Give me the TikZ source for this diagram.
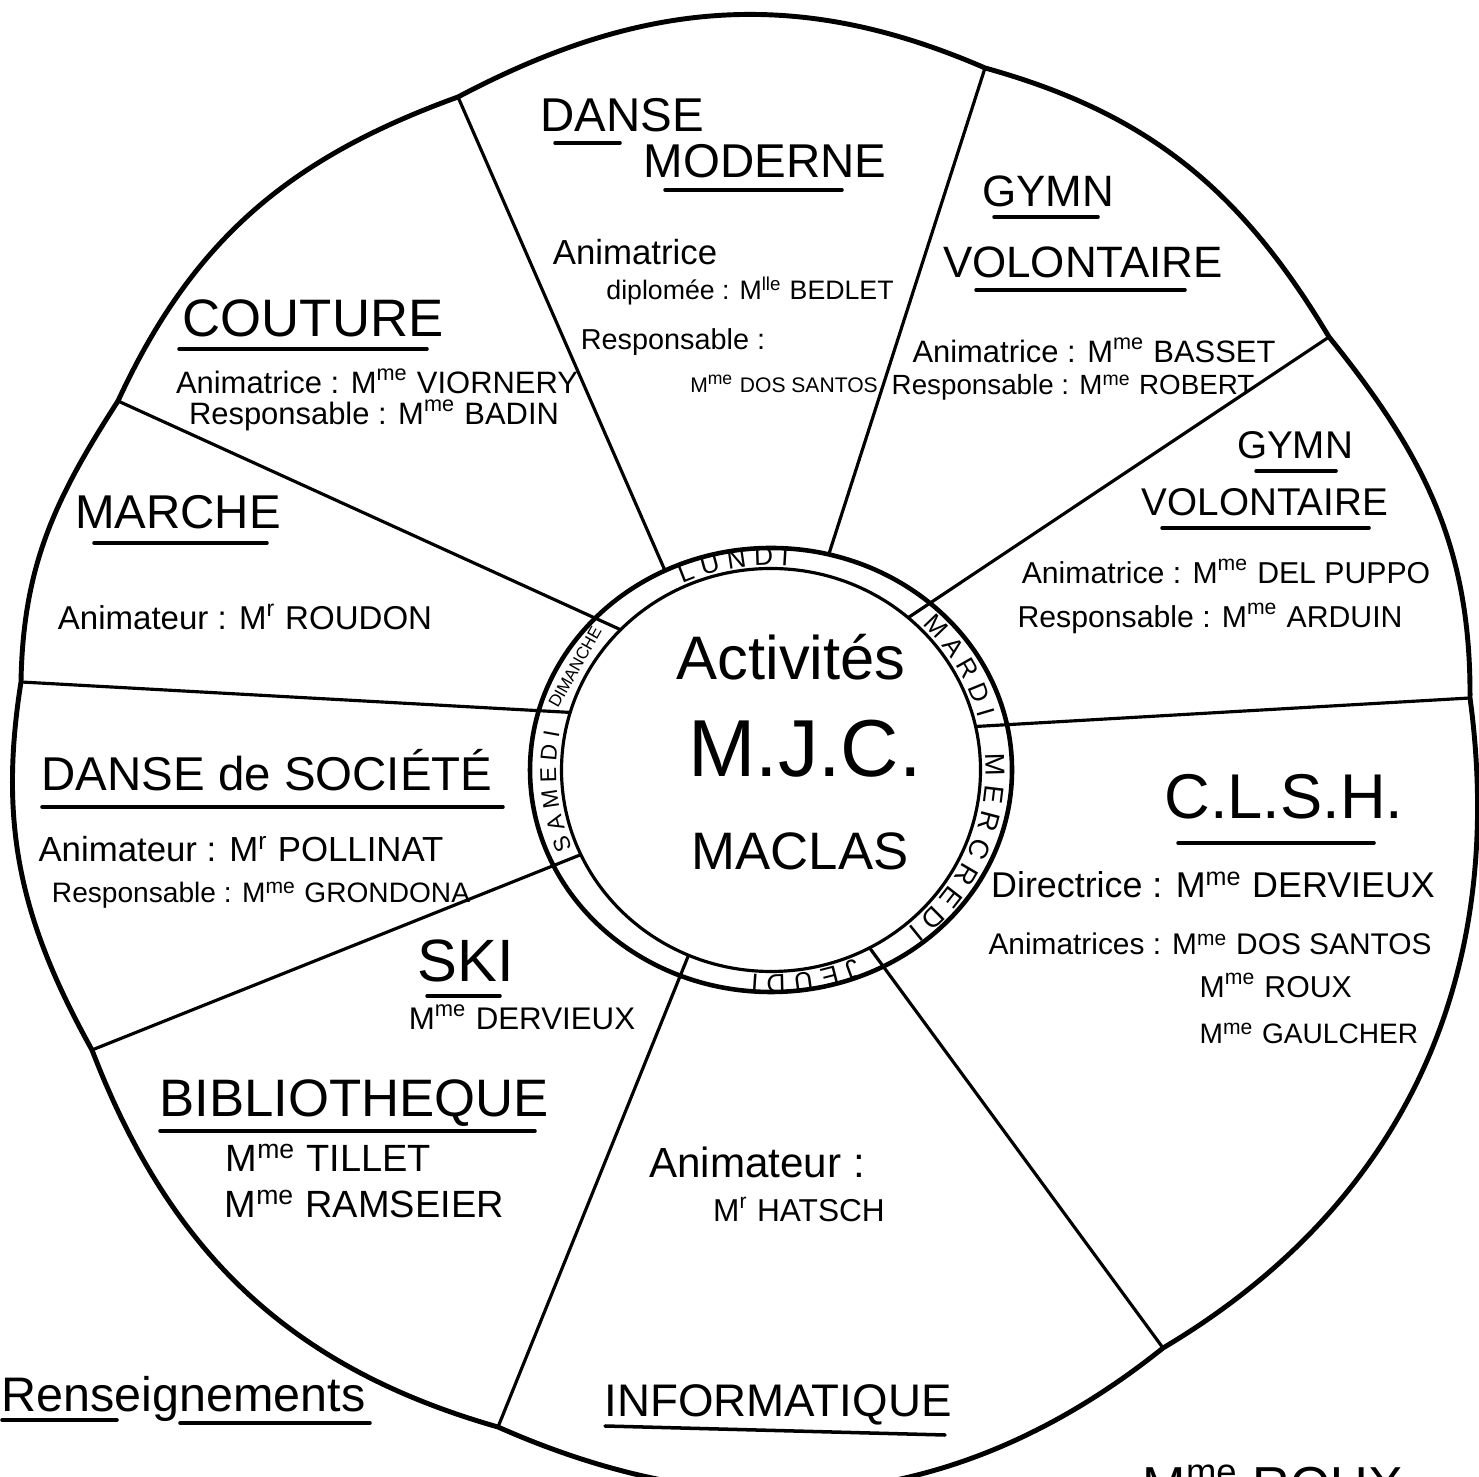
\documentclass[tikz,border=0pt]{standalone}
\usepackage{fontspec}
\setmainfont{Liberation Sans}
\usetikzlibrary{shapes.geometric,decorations.text}

\newcommand{\Mme}{M\textsuperscript{me}}
\newcommand{\Mr}{M\textsuperscript{r}}

\tikzset{
  jante/.style={line width=1.4pt,line join=round,line cap=round},
  rayon/.style={line width=0.9pt},
  anneau/.style={ellipse,draw,inner sep=0pt,outer sep=0pt},
  jour/.style={decorate,decoration={text along path,text align=center}},
  titre/.style={anchor=base,inner sep=0pt,font=\fontsize{13.5}{15}\selectfont},
  info/.style={anchor=base,inner sep=0pt,font=\fontsize{8.8}{10}\selectfont},
  trait/.style={line width=1pt,line cap=round},
}

\begin{document}
\begin{tikzpicture}

    \useasboundingbox (0,0) rectangle (14.79,14.76);

    % pointes de la roue
    \coordinate (p1) at (4.58,13.79);
    \coordinate (p2) at (9.85,14.08);
    \coordinate (p3) at (13.29,11.39);
    \coordinate (p4) at (14.70,7.78);
    \coordinate (p5) at (11.63,1.28);
    \coordinate (p6) at (4.98,0.49);
    \coordinate (p7) at (0.92,4.26);
    \coordinate (p8) at (0.21,7.94);
    \coordinate (p9) at (1.18,10.75);

    \draw[jante] (p2) to[out=-15.5,in=120.9] (p3)
        to[out=-51.1,in=89.7] (p4)
        to[out=-82.3,in=30.7] (p5)
        to[out=-141.3,in=-23.9] (p6)
        to[out=164.1,in=-69] (p7)
        to[out=119,in=-99] (p8)
        to[out=89,in=237.2] (p9)
        to[out=65.2,in=199.9] (p1)
        to[out=27.9,in=156.5] (p2);

    \node[anneau,line width=1.3pt,minimum width=4.82cm,minimum height=4.44cm] (couronne) at (7.71,7.06) {};
    \node[anneau,line width=0.9pt,minimum width=4.19cm,minimum height=4.03cm] (centre) at (7.71,7.06) {};

    \draw[rayon] (couronne.118) -- (p1);
    \draw[rayon] (couronne.75) -- (p2);
    \draw[rayon] (centre.48) -- (p3);
    \draw[rayon] (centre.12) -- (p4);
    \draw[rayon] (centre.-61) -- (p5);
    \draw[rayon] (centre.-114) -- (p6);
    \draw[rayon] (centre.204) -- (p7);
    \draw[rayon] (centre.164) -- (p8);
    \draw[rayon] (centre.137) -- (p9);

    % jours
    \path[jour,decoration={text={|\fontsize{7.5}{8}\selectfont|L U N D I}}]
        (centre.center) ++(130:2.15 and 2.045) arc[start angle=130,end angle=70,x radius=2.15,y radius=2.045];
    \path[jour,decoration={text={|\fontsize{7.3}{8}\selectfont|M A R D I}}]
        (centre.center) ++(50:2.15 and 2.045) arc[start angle=50,end angle=10,x radius=2.15,y radius=2.045];
    \path[jour,decoration={text={|\fontsize{7.8}{8}\selectfont|M E R C R E D I}}]
        (centre.center) ++(10:2.15 and 2.045) arc[start angle=10,end angle=-56,x radius=2.15,y radius=2.045];
    \path[jour,decoration={text={|\fontsize{7.5}{8}\selectfont|J E U D I}}]
        (centre.center) ++(-56:2.15 and 2.045) arc[start angle=-56,end angle=-106,x radius=2.15,y radius=2.045];
    \path[jour,decoration={text={|\fontsize{6.5}{8}\selectfont|S A M E D I}}]
        (centre.center) ++(205:2.15 and 2.045) arc[start angle=205,end angle=167,x radius=2.15,y radius=2.045];
    \node[rotate=60.5,inner sep=0pt,font=\fontsize{4.8}{6}\selectfont] (dimanche) at (5.75,8.09) {DIMANCHE};

    \node[titre,font=\fontsize{17.5}{20}\selectfont] (activites) at (7.91,7.96) {Activités};
    \node[titre,font=\fontsize{23}{26}\selectfont] (mjc) at (8.05,6.99) {M.J.C.};
    \node[titre,font=\fontsize{15}{17}\selectfont] (maclas) at (8.00,6.06) {MACLAS};

    % danse moderne
    \node[titre] (danse) at (6.22,13.44) {DANSE};
    \node[titre] (moderne) at (7.65,12.98) {MODERNE};
    \node[info,font=\fontsize{9.9}{11}\selectfont] (dmanim) at (6.35,12.11) {Animatrice};
    \node[info,font=\fontsize{7.6}{9}\selectfont] (dmdipl) at (7.50,11.76) {diplomée : M\textsuperscript{lle} BEDLET};
    \node[info,font=\fontsize{8.2}{9}\selectfont] (dmresp) at (6.73,11.26) {Responsable :};
    \node[info,font=\fontsize{6}{7}\selectfont] (dmnom) at (7.84,10.83) {\Mme\ DOS SANTOS};
    \draw[trait] (5.55,13.33) -- (6.20,13.33);
    \draw[trait] (6.65,12.86) -- (8.42,12.86);

    % gymn volontaire
    \node[titre,font=\fontsize{12.5}{14}\selectfont] (gymA) at (10.48,12.69) {GYMN};
    \node[titre,font=\fontsize{12.5}{14}\selectfont] (volA) at (10.83,11.98) {VOLONTAIRE};
    \node[info] (basset) at (10.94,11.13) {Animatrice : \Mme\ BASSET};
    \node[info,font=\fontsize{7.9}{9}\selectfont] (robert) at (10.73,10.81) {Responsable : \Mme\ ROBERT};
    \draw[trait] (9.94,12.59) -- (10.98,12.59);
    \draw[trait] (9.76,11.86) -- (11.85,11.86);

    \node[titre,font=\fontsize{11}{13}\selectfont] (gymB) at (12.95,10.17) {GYMN};
    \node[titre,font=\fontsize{11}{13}\selectfont] (volB) at (12.65,9.60) {VOLONTAIRE};
    \node[info,font=\fontsize{8.6}{10}\selectfont] (puppo) at (12.26,8.92) {Animatrice : \Mme\ DEL PUPPO};
    \node[info,font=\fontsize{8.6}{10}\selectfont] (arduin) at (12.10,8.48) {Responsable : \Mme\ ARDUIN};
    \draw[trait] (12.56,10.05) -- (13.36,10.05);
    \draw[trait] (11.62,9.48) -- (13.69,9.48);

    % c.l.s.h.
    \node[titre,font=\fontsize{18}{20}\selectfont] (clsh) at (12.84,6.57) {C.L.S.H.};
    \node[info,font=\fontsize{10.2}{12}\selectfont] (directrice) at (12.13,5.78) {Directrice : \Mme\ DERVIEUX};
    \node[info,font=\fontsize{8.5}{10}\selectfont] (animatrices) at (12.10,5.21) {Animatrices : \Mme\ DOS SANTOS};
    \node[info,anchor=base west,font=\fontsize{8.6}{10}\selectfont] (roux) at (11.99,4.78) {\Mme\ ROUX};
    \node[info,anchor=base west,font=\fontsize{8}{10}\selectfont] (gaulcher) at (11.99,4.32) {\Mme\ GAULCHER};
    \draw[trait] (11.78,6.33) -- (13.74,6.33);

    % informatique
    \node[info,font=\fontsize{12}{14}\selectfont] (infoanim) at (7.57,2.98) {Animateur :};
    \node[info,font=\fontsize{9}{11}\selectfont] (hatsch) at (7.99,2.54) {\Mr\ HATSCH};
    \node[titre,font=\fontsize{13}{15}\selectfont] (informatique) at (7.78,0.60) {INFORMATIQUE};
    \draw[trait] (6.05,0.50) -- (9.45,0.41);

    % ski et bibliotheque
    \node[titre,font=\fontsize{17}{19}\selectfont] (ski) at (4.66,4.94) {SKI};
    \node[info,font=\fontsize{8.9}{10}\selectfont] (skinom) at (5.22,4.46) {\Mme\ DERVIEUX};
    \node[titre,font=\fontsize{15}{17}\selectfont] (biblio) at (3.54,3.59) {BIBLIOTHEQUE};
    \node[info,anchor=base west,font=\fontsize{10.8}{12}\selectfont] (tillet) at (2.25,3.04) {\Mme\ TILLET};
    \node[info,anchor=base west,font=\fontsize{10.8}{12}\selectfont] (ramseier) at (2.24,2.58) {\Mme\ RAMSEIER};
    \draw[trait] (4.27,4.80) -- (5.00,4.80);
    \draw[trait] (1.60,3.45) -- (5.35,3.45);

    % danse de societe
    \node[titre] (dsoc) at (2.67,6.85) {DANSE de SOCIÉTÉ};
    \node[info,font=\fontsize{9.9}{11}\selectfont] (pollinat) at (2.41,6.14) {Animateur : \Mr\ POLLINAT};
    \node[info,font=\fontsize{8}{10}\selectfont] (grondona) at (2.61,5.73) {Responsable : \Mme\ GRONDONA};
    \draw[trait] (0.42,6.69) -- (5.03,6.69);

    % marche
    \node[titre] (marche) at (1.78,9.47) {MARCHE};
    \node[info,font=\fontsize{9.4}{11}\selectfont] (roudon) at (2.45,8.46) {Animateur : \Mr\ ROUDON};
    \draw[trait] (0.94,9.33) -- (2.67,9.33);

    % couture
    \node[titre,font=\fontsize{15}{17}\selectfont] (couture) at (3.13,11.39) {COUTURE};
    \node[info] (viornery) at (3.77,10.82) {Animatrice : \Mme\ VIORNERY};
    \node[info] (badin) at (3.74,10.51) {Responsable : \Mme\ BADIN};
    \draw[trait] (1.79,11.27) -- (4.27,11.27);

    % renseignements
    \node[titre,anchor=base west,font=\fontsize{13.8}{16}\selectfont] (rens) at (0.01,0.64) {Renseignements};
    \draw[trait] (0.02,0.56) -- (1.17,0.56);
    \draw[trait] (1.80,0.53) -- (3.70,0.53);
    \node[titre,font=\fontsize{14.8}{16}\selectfont] (rouxbas) at (12.73,-0.27) {\Mme\ ROUX};

\end{tikzpicture}
\end{document}
